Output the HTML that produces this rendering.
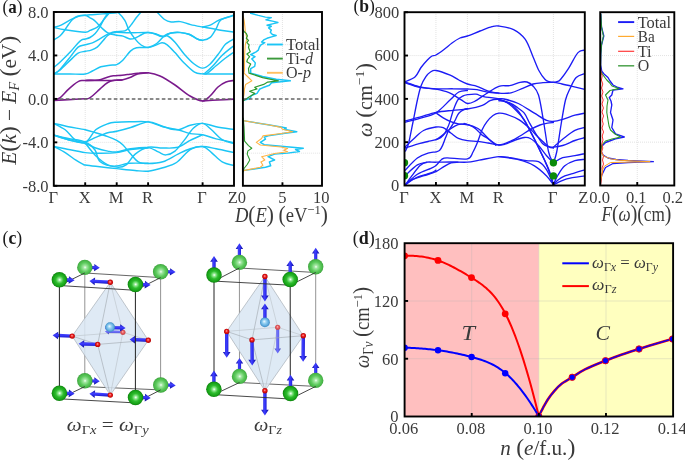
<!DOCTYPE html>
<html><head><meta charset="utf-8"><style>
html,body{margin:0;padding:0;background:#fff;width:685px;height:460px;overflow:hidden}
svg{display:block;font-family:"Liberation Serif",serif}
text{filter:grayscale(1)}
</style></head><body>
<svg width="685" height="460" viewBox="0 0 685 460">
<rect width="685" height="460" fill="#fff"/>
<defs><clipPath id="ca"><rect x="53.8" y="12.0" width="180.2" height="173.8"/></clipPath>
<clipPath id="cda"><rect x="242.9" y="12" width="79.1" height="173.8"/></clipPath>
<clipPath id="cb"><rect x="404.5" y="12.2" width="180.3" height="173.3"/></clipPath>
<clipPath id="cdb"><rect x="600.2" y="12.2" width="74.1" height="173.3"/></clipPath>
<clipPath id="cd"><rect x="404.6" y="243.2" width="268.5" height="173.3"/></clipPath>
</defs>
<line x1="85.2" y1="12" x2="85.2" y2="185.8" stroke="#cdcdcd" stroke-width="0.7" stroke-dasharray="0.8,1.2"/>
<line x1="116.7" y1="12" x2="116.7" y2="185.8" stroke="#cdcdcd" stroke-width="0.7" stroke-dasharray="0.8,1.2"/>
<line x1="148.1" y1="12" x2="148.1" y2="185.8" stroke="#cdcdcd" stroke-width="0.7" stroke-dasharray="0.8,1.2"/>
<line x1="202.6" y1="12" x2="202.6" y2="185.8" stroke="#cdcdcd" stroke-width="0.7" stroke-dasharray="0.8,1.2"/>
<line x1="53.8" y1="55.45" x2="234" y2="55.45" stroke="#cdcdcd" stroke-width="0.7" stroke-dasharray="0.8,1.2"/>
<line x1="53.8" y1="142.35" x2="234" y2="142.35" stroke="#cdcdcd" stroke-width="0.7" stroke-dasharray="0.8,1.2"/>
<g clip-path="url(#ca)">
<path d="M53.8,27.4 C55.02,27.03 58.1,26.58 61.1,25.2 C64.1,23.82 68.75,20.62 71.8,19.1 C74.85,17.58 77.17,16.73 79.4,16.1 C81.63,15.47 83.43,15.52 85.2,15.3 C86.97,15.08 87.03,15.03 90,14.8 C92.97,14.57 98.55,14.25 103,13.9 C107.45,13.55 114.08,12.85 116.7,12.7 C119.32,12.55 117.35,11.72 118.7,13 C120.05,14.28 123.1,17.6 124.8,20.4 C126.5,23.2 127.2,26.72 128.9,29.8 C130.6,32.88 132.97,36.37 135,38.9 C137.03,41.43 138.92,43.57 141.1,45 C143.28,46.43 145.72,47.43 148.1,47.5 C150.48,47.57 153.08,46.18 155.4,45.4 C157.72,44.62 160.03,42.9 162,42.8 C163.97,42.7 165.03,43.17 167.2,44.8 C169.37,46.43 172.18,49.57 175,52.6 C177.82,55.63 180.85,59.73 184.1,63 C187.35,66.27 191.42,70.38 194.5,72.2 C197.58,74.02 199.18,73.6 202.6,73.9 C206.02,74.2 209.77,73.98 215,74 C220.23,74.02 230.83,74 234,74" fill="none" stroke="#1bc5f5" stroke-width="1.45" stroke-linejoin="round" stroke-linecap="round" />
<path d="M53.8,27.4 C55.67,27.8 59.77,29 65,29.8 C70.23,30.6 81.03,32.1 85.2,32.2 C89.37,32.3 88.03,31.2 90,30.4 C91.97,29.6 95.12,28.63 97,27.4 C98.88,26.17 99.72,25.03 101.3,23 C102.88,20.97 105.05,16.95 106.5,15.2 C107.95,13.45 108.42,13.7 110,12.5 C111.58,11.3 115,8.75 116,8" fill="none" stroke="#1bc5f5" stroke-width="1.45" stroke-linejoin="round" stroke-linecap="round" />
<path d="M53.8,39.9 C54.87,39.22 58.33,37.48 60.2,35.8 C62.07,34.12 63.62,31.68 65,29.8 C66.38,27.92 67.25,26.22 68.5,24.5 C69.75,22.78 71,20.87 72.5,19.5 C74,18.13 75.38,17.02 77.5,16.3 C79.62,15.58 83.12,14.95 85.2,15.2 C87.28,15.45 88.48,16.93 90,17.8 C91.52,18.67 92.85,19.23 94.3,20.4 C95.75,21.57 97.25,23.35 98.7,24.8 C100.15,26.25 101.55,27.8 103,29.1 C104.45,30.4 105.95,31.73 107.4,32.6 C108.85,33.47 110.15,33.87 111.7,34.3 C113.25,34.73 114.82,34.9 116.7,35.2 C118.58,35.5 120.78,35.47 123,36.1 C125.22,36.73 127.92,38.68 130,39 C132.08,39.32 133.67,38.67 135.5,38 C137.33,37.33 139.48,35.83 141,35 C142.52,34.17 143.42,33.42 144.6,33 C145.78,32.58 146.3,32.38 148.1,32.5 C149.9,32.62 152.87,33.07 155.4,33.7 C157.93,34.33 160.68,36.42 163.3,36.3 C165.92,36.18 168.28,33.65 171.1,33 C173.92,32.35 177.17,32.18 180.2,32.4 C183.23,32.62 186.47,33.22 189.3,34.3 C192.13,35.38 194.98,37.9 197.2,38.9 C199.42,39.9 200.43,40.55 202.6,40.3 C204.77,40.05 207.92,39.4 210.2,37.4 C212.48,35.4 214.52,31.22 216.3,28.3 C218.08,25.38 217.95,22.07 220.9,19.9 C223.85,17.73 231.82,16.07 234,15.3" fill="none" stroke="#1bc5f5" stroke-width="1.45" stroke-linejoin="round" stroke-linecap="round" />
<path d="M53.8,67.4 C54.87,66.5 57.35,64.68 60.2,62 C63.05,59.32 67.92,54.48 70.9,51.3 C73.88,48.12 76.3,44.8 78.1,42.9 C79.9,41 80.52,40.55 81.7,39.9 C82.88,39.25 83.82,39.4 85.2,39 C86.58,38.6 88.33,38.42 90,37.5 C91.67,36.58 93.6,35.18 95.2,33.5 C96.8,31.82 98.15,29.72 99.6,27.4 C101.05,25.08 102.45,21.78 103.9,19.6 C105.35,17.42 106.95,15.9 108.3,14.3 C109.65,12.7 110.72,11.22 112,10 C113.28,8.78 115.33,7.5 116,7" fill="none" stroke="#1bc5f5" stroke-width="1.45" stroke-linejoin="round" stroke-linecap="round" />
<path d="M53.8,74 C54.87,73.2 57.35,72.18 60.2,69.2 C63.05,66.22 67.92,59.78 70.9,56.1 C73.88,52.42 75.72,49 78.1,47.1 C80.48,45.2 82.82,45.4 85.2,44.7 C87.58,44 90.15,43.75 92.4,42.9 C94.65,42.05 96.2,41.03 98.7,39.6 C101.2,38.17 105.08,35.53 107.4,34.3 C109.72,33.07 111.05,32.63 112.6,32.2 C114.15,31.77 114.67,31.92 116.7,31.7 C118.73,31.48 122.87,31.47 124.8,30.9 C126.73,30.33 127.1,29.5 128.3,28.3 C129.5,27.1 130.72,25.42 132,23.7 C133.28,21.98 134.73,19.65 136,18 C137.27,16.35 138.43,15.3 139.6,13.8 C140.77,12.3 142.43,9.8 143,9" fill="none" stroke="#1bc5f5" stroke-width="1.45" stroke-linejoin="round" stroke-linecap="round" />
<path d="M53.8,74 C54.87,73.33 57.35,72.4 60.2,70 C63.05,67.6 67.92,62.42 70.9,59.6 C73.88,56.78 75.72,54.48 78.1,53.1 C80.48,51.72 83.02,51.8 85.2,51.3 C87.38,50.8 89.2,50.8 91.2,50.1 C93.2,49.4 95.2,48.7 97.2,47.1 C99.2,45.5 101.5,42.38 103.2,40.5 C104.9,38.62 105.83,37.07 107.4,35.8 C108.97,34.53 111.05,33.47 112.6,32.9 C114.15,32.33 113.8,32.42 116.7,32.4 C119.6,32.38 124.77,32.78 130,32.8 C135.23,32.82 143.93,32.3 148.1,32.5 C152.27,32.7 153.02,33.38 155,34 C156.98,34.62 158.5,35.77 160,36.2 C161.5,36.63 162.7,36.63 164,36.6 C165.3,36.57 165.97,35.07 167.8,36 C169.63,36.93 172.28,39.22 175,42.2 C177.72,45.18 180.85,50.22 184.1,53.9 C187.35,57.58 191.42,61.93 194.5,64.3 C197.58,66.67 199.98,68.15 202.6,68.1 C205.22,68.05 207.4,66.58 210.2,64 C213,61.42 216.87,55.9 219.4,52.6 C221.93,49.3 222.97,46.48 225.4,44.2 C227.83,41.92 232.57,39.78 234,38.9" fill="none" stroke="#1bc5f5" stroke-width="1.45" stroke-linejoin="round" stroke-linecap="round" />
<path d="M53.8,74 C56.5,74 64.77,74 70,74 C75.23,74 81.47,74.5 85.2,74 C88.93,73.5 89.8,72.2 92.4,71 C95,69.8 97.87,67.77 100.8,66.8 C103.73,65.83 107.35,65.57 110,65.2 C112.65,64.83 114.57,65.43 116.7,64.6 C118.83,63.77 120.52,62.45 122.8,60.2 C125.08,57.95 128.12,53.18 130.4,51.1 C132.68,49.02 133.55,48.32 136.5,47.7 C139.45,47.08 144.73,48.1 148.1,47.4 C151.47,46.7 153.95,45.47 156.7,43.5 C159.45,41.53 162.2,37.35 164.6,35.6 C167,33.85 168.5,33.5 171.1,33 C173.7,32.5 177.17,32.35 180.2,32.6 C183.23,32.85 186.47,33.43 189.3,34.5 C192.13,35.57 194.98,38 197.2,39 C199.42,40 201.7,40.25 202.6,40.5" fill="none" stroke="#1bc5f5" stroke-width="1.45" stroke-linejoin="round" stroke-linecap="round" />
<path d="M150,4 C151.25,5.42 155.07,9.92 157.5,12.5 C159.93,15.08 162.33,17.92 164.6,19.5 C166.87,21.08 168.5,21.65 171.1,22 C173.7,22.35 176.95,21.17 180.2,21.6 C183.45,22.03 186.87,23.7 190.6,24.6 C194.33,25.5 199.33,26.38 202.6,27 C205.87,27.62 206.9,27.72 210.2,28.3 C213.5,28.88 218.43,29.87 222.4,30.5 C226.37,31.13 232.07,31.83 234,32.1" fill="none" stroke="#1bc5f5" stroke-width="1.45" stroke-linejoin="round" stroke-linecap="round" />
<path d="M202.6,27 C203.87,26.7 207.4,26.38 210.2,25.2 C213,24.02 215.43,21.55 219.4,19.9 C223.37,18.25 231.57,16.07 234,15.3" fill="none" stroke="#1bc5f5" stroke-width="1.45" stroke-linejoin="round" stroke-linecap="round" />
<path d="M203.1,73.8 C203.48,73.62 203.75,74.03 205.4,72.7 C207.05,71.37 210.2,68.72 213,65.8 C215.8,62.88 218.7,58.58 222.2,55.2 C225.7,51.82 232.03,47.12 234,45.5" fill="none" stroke="#1bc5f5" stroke-width="1.45" stroke-linejoin="round" stroke-linecap="round" />
<path d="M204.6,73.9 C205,73.82 205.08,74.75 207,73.4 C208.92,72.05 213.07,68.33 216.1,65.8 C219.13,63.27 222.22,60.5 225.2,58.2 C228.18,55.9 232.53,53.03 234,52" fill="none" stroke="#1bc5f5" stroke-width="1.45" stroke-linejoin="round" stroke-linecap="round" />
<path d="M53.8,123.4 C56.22,123.95 63.07,125.63 68.3,126.7 C73.53,127.77 80.63,128.78 85.2,129.8 C89.77,130.82 91.93,131.67 95.7,132.8 C99.47,133.93 104.3,135.33 107.8,136.6 C111.3,137.87 114.17,139 116.7,140.4 C119.23,141.8 120.67,142.72 123,145 C125.33,147.28 128.15,151.3 130.7,154.1 C133.25,156.9 135.4,160.23 138.3,161.8 C141.2,163.37 144.02,163.5 148.1,163.5 C152.18,163.5 157.82,163.37 162.8,161.8 C167.78,160.23 173.43,156.27 178,154.1 C182.57,151.93 186.1,150.07 190.2,148.8 C194.3,147.53 198.28,146.5 202.6,146.5 C206.92,146.5 210.87,147.78 216.1,148.8 C221.33,149.82 231.02,151.97 234,152.6" fill="none" stroke="#1bc5f5" stroke-width="1.45" stroke-linejoin="round" stroke-linecap="round" />
<path d="M53.8,123.4 C55.7,124.47 61.52,126.97 65.2,129.8 C68.88,132.63 72.57,138.37 75.9,140.4 C79.23,142.43 81.9,142.5 85.2,142 C88.5,141.5 91.93,138.93 95.7,137.4 C99.47,135.87 104.3,133.82 107.8,132.8 C111.3,131.78 112.88,132.18 116.7,131.3 C120.52,130.42 125.47,129.07 130.7,127.5 C135.93,125.93 143.25,122.28 148.1,121.9 C152.95,121.52 156.08,124.02 159.8,125.2 C163.52,126.38 167.1,128.28 170.4,129 C173.7,129.72 176.3,130.13 179.6,129.5 C182.9,128.87 186.37,126.22 190.2,125.2 C194.03,124.18 198.28,123.15 202.6,123.4 C206.92,123.65 210.87,125.68 216.1,126.7 C221.33,127.72 231.02,129.03 234,129.5" fill="none" stroke="#1bc5f5" stroke-width="1.45" stroke-linejoin="round" stroke-linecap="round" />
<path d="M53.8,135.1 C56.22,135.87 63.07,138.47 68.3,139.7 C73.53,140.93 80.63,144.15 85.2,142.5 C89.77,140.85 91.93,132.93 95.7,129.8 C99.47,126.67 104.3,124.97 107.8,123.7 C111.3,122.43 113,122.52 116.7,122.2 C120.4,121.88 124.77,121.85 130,121.8 C135.23,121.75 142.63,121.08 148.1,121.9 C153.57,122.72 157.82,125.38 162.8,126.7 C167.78,128.02 173.43,128.65 178,129.8 C182.57,130.95 186.1,132.78 190.2,133.6 C194.3,134.42 198.28,133.82 202.6,134.7 C206.92,135.58 210.87,137.57 216.1,138.9 C221.33,140.23 231.02,142.07 234,142.7" fill="none" stroke="#1bc5f5" stroke-width="1.45" stroke-linejoin="round" stroke-linecap="round" />
<path d="M53.8,135.1 C56.22,135.87 63.07,138.3 68.3,139.7 C73.53,141.1 80.63,142.12 85.2,143.5 C89.77,144.88 91.93,146.73 95.7,148 C99.47,149.27 104.3,150.45 107.8,151.1 C111.3,151.75 112.88,152.28 116.7,151.9 C120.52,151.52 125.47,149.52 130.7,148.8 C135.93,148.08 143.5,147.08 148.1,147.6 C152.7,148.12 155.33,150.68 158.3,151.9 C161.27,153.12 163.12,155.03 165.9,154.9 C168.68,154.77 171.97,153.52 175,151.1 C178.03,148.68 181.05,144.2 184.1,140.4 C187.15,136.6 190.22,131.13 193.3,128.3 C196.38,125.47 199.57,123.15 202.6,123.4 C205.63,123.65 208.23,127.08 211.5,129.8 C214.77,132.52 218.45,137.42 222.2,139.7 C225.95,141.98 232.03,142.87 234,143.5" fill="none" stroke="#1bc5f5" stroke-width="1.45" stroke-linejoin="round" stroke-linecap="round" />
<path d="M53.8,135.1 C56.22,135.67 63.07,137.35 68.3,138.5 C73.53,139.65 80.75,140.08 85.2,142 C89.65,143.92 92.5,146.7 95,150 C97.5,153.3 96.58,158.95 100.2,161.8 C103.82,164.65 112.38,166.6 116.7,167.1 C121.02,167.6 123.02,166.97 126.1,164.8 C129.18,162.63 131.53,157.02 135.2,154.1 C138.87,151.18 143.5,148.32 148.1,147.3 C152.7,146.28 157.82,148 162.8,148 C167.78,148 173.43,148.57 178,147.3 C182.57,146.03 186.1,142.5 190.2,140.4 C194.3,138.3 200.53,135.65 202.6,134.7" fill="none" stroke="#1bc5f5" stroke-width="1.45" stroke-linejoin="round" stroke-linecap="round" />
<path d="M53.8,146.5 C55.7,146.88 59.97,147.78 65.2,148.8 C70.43,149.82 79.4,151.87 85.2,152.6 C91,153.33 94.75,153.2 100,153.2 C105.25,153.2 111.58,153.22 116.7,152.6 C121.82,151.98 125.47,150.27 130.7,149.5 C135.93,148.73 145.2,148.25 148.1,148" fill="none" stroke="#1bc5f5" stroke-width="1.45" stroke-linejoin="round" stroke-linecap="round" />
<path d="M53.8,146.5 C55.7,147.52 61.52,150.32 65.2,152.6 C68.88,154.88 72.85,158.22 75.9,160.2 C78.95,162.18 81.95,163.7 83.5,164.5 C85.05,165.3 83.17,164.7 85.2,165 C87.23,165.3 90.45,165.7 95.7,166.3 C100.95,166.9 110.15,167.9 116.7,168.6 C123.25,169.3 129.77,170.07 135,170.5 C140.23,170.93 143.47,171.65 148.1,171.2 C152.73,170.75 158.07,169.25 162.8,167.8 C167.53,166.35 171.93,165.53 176.5,162.5 C181.07,159.47 185.85,152.27 190.2,149.6 C194.55,146.93 199.05,146 202.6,146.5 C206.15,147 208.23,150.05 211.5,152.6 C214.77,155.15 218.45,159.63 222.2,161.8 C225.95,163.97 232.03,164.97 234,165.6" fill="none" stroke="#1bc5f5" stroke-width="1.45" stroke-linejoin="round" stroke-linecap="round" />
<path d="M85.2,143 C86.95,145.12 91.93,152.07 95.7,155.7 C99.47,159.33 104.3,163.08 107.8,164.8 C111.3,166.52 113.15,166.25 116.7,166 C120.25,165.75 123.87,163.75 129.1,163.3 C134.33,162.85 144.93,163.3 148.1,163.3" fill="none" stroke="#1bc5f5" stroke-width="1.45" stroke-linejoin="round" stroke-linecap="round" />
<path d="M53.8,100.3 C54.02,100.27 54.03,100.55 55.1,100.1 C56.17,99.65 58.17,99.22 60.2,97.6 C62.23,95.98 65.08,92.53 67.3,90.4 C69.52,88.27 71.62,86.3 73.5,84.8 C75.38,83.3 77.07,82.12 78.6,81.4 C80.13,80.68 81.6,80.67 82.7,80.5 C83.8,80.33 83.17,80.45 85.2,80.4 C87.23,80.35 92.27,80.37 94.9,80.2 C97.53,80.03 98.95,79.9 101,79.4 C103.05,78.9 105.15,77.8 107.2,77.2 C109.25,76.6 110.83,76.13 113.3,75.8 C115.77,75.47 119.22,75.47 122,75.2 C124.78,74.93 127.4,74.52 130,74.2 C132.6,73.88 134.58,73.53 137.6,73.3 C140.62,73.07 144.37,72.35 148.1,72.8 C151.83,73.25 155.52,73.97 160,76 C164.48,78.03 170,81.67 175,85 C180,88.33 185.4,93.35 190,96 C194.6,98.65 199.27,100.9 202.6,100.9 C205.93,100.9 207.43,98.32 210,96 C212.57,93.68 215.33,89.33 218,87 C220.67,84.67 223.33,83.1 226,82 C228.67,80.9 232.67,80.67 234,80.4" fill="none" stroke="#7a1a8c" stroke-width="1.55" stroke-linejoin="round" stroke-linecap="round" />
<path d="M53.8,100.5 C56.9,100.32 67.17,99.68 72.4,99.4 C77.63,99.12 82.47,98.97 85.2,98.8 C87.93,98.63 87.52,98.95 88.8,98.4 C90.08,97.85 91.2,96.92 92.9,95.5 C94.6,94.08 96.97,91.77 99,89.9 C101.03,88.03 103.23,85.75 105.1,84.3 C106.97,82.85 108.48,81.88 110.2,81.2 C111.92,80.52 113.43,80.42 115.4,80.2 C117.37,79.98 119.57,80.35 122,79.9 C124.43,79.45 127.4,78.48 130,77.5 C132.6,76.52 134.58,74.78 137.6,74 C140.62,73.22 146.35,73 148.1,72.8" fill="none" stroke="#7a1a8c" stroke-width="1.55" stroke-linejoin="round" stroke-linecap="round" />
<path d="M85.2,80.4 C86.82,80.4 91.92,80.38 94.9,80.4 C97.88,80.42 100.37,80.5 103.1,80.5 C105.83,80.5 108.15,80.5 111.3,80.4 C114.45,80.3 120.22,79.98 122,79.9" fill="none" stroke="#7a1a8c" stroke-width="1.55" stroke-linejoin="round" stroke-linecap="round" />
<path d="M202.6,100.9 C205.17,100.75 212.77,100.3 218,100 C223.23,99.7 231.33,99.25 234,99.1" fill="none" stroke="#7a1a8c" stroke-width="1.55" stroke-linejoin="round" stroke-linecap="round" />
</g>
<line x1="53.8" y1="99" x2="234.0" y2="99" stroke="#666" stroke-width="1.3" stroke-dasharray="3.6,2.4"/>
<rect x="53.8" y="12" width="180.2" height="173.8" fill="none" stroke="#000" stroke-width="1.9"/>
<line x1="53.8" y1="12" x2="57.3" y2="12" stroke="#000" stroke-width="1.9"/>
<line x1="53.8" y1="55.45" x2="57.3" y2="55.45" stroke="#000" stroke-width="1.9"/>
<line x1="53.8" y1="98.9" x2="57.3" y2="98.9" stroke="#000" stroke-width="1.9"/>
<line x1="53.8" y1="142.35" x2="57.3" y2="142.35" stroke="#000" stroke-width="1.9"/>
<line x1="53.8" y1="185.8" x2="57.3" y2="185.8" stroke="#000" stroke-width="1.9"/>
<line x1="85.2" y1="185.8" x2="85.2" y2="182.3" stroke="#000" stroke-width="1.9"/>
<line x1="116.7" y1="185.8" x2="116.7" y2="182.3" stroke="#000" stroke-width="1.9"/>
<line x1="148.1" y1="185.8" x2="148.1" y2="182.3" stroke="#000" stroke-width="1.9"/>
<line x1="202.6" y1="185.8" x2="202.6" y2="182.3" stroke="#000" stroke-width="1.9"/>
<line x1="282.45" y1="12" x2="282.45" y2="185.8" stroke="#cdcdcd" stroke-width="0.7" stroke-dasharray="0.8,1.2"/>
<line x1="242.9" y1="44.6" x2="322" y2="44.6" stroke="#cdcdcd" stroke-width="0.7" stroke-dasharray="0.8,1.2"/>
<line x1="242.9" y1="153.2" x2="322" y2="153.2" stroke="#cdcdcd" stroke-width="0.7" stroke-dasharray="0.8,1.2"/>
<g clip-path="url(#cda)">
<path d="M243.2,16 L244.2,20.9 L244.8,26 L245.3,31.7 L246.9,38.3 L245.3,44.8 L244.7,53.5 L244.5,62 L244.5,70 L244,73.1 L248,77 L251.9,80.8 L245.6,84.4 L244.5,88.9 L244,94.5 L243.2,99" fill="none" stroke="#ffb446" stroke-width="1.1" stroke-linejoin="round" stroke-linecap="round" />
<path d="M250.7,13.3 L258.3,15.4 L265.4,17.1 L271.3,17.6 L265.9,19.8 L273.5,21.4 L277.9,22.5 L273.5,23.6 L267,25.2 L271.3,26.3 L268.6,27.9 L271.3,30.1 L270.3,32.3 L272.4,34.5 L276.2,35.5 L272.4,36.6 L267,38.3 L263.7,39.9 L261.6,42.1 L264.8,42.6 L261,44.8 L259.4,47 L258.3,50.2 L256.1,51.8 L252.9,53.5 L250.7,54.6 L255,56.7 L251.8,58.9 L252.4,59.5 L255.3,62.9 L254.7,66.3 L250.7,68.6 L250.7,73.1 L262.6,76.5 L276.2,79.3 L290.3,80.8 L271.6,82.7 L269.4,85.3 L262.6,87.8 L259.8,89 L257,93.4 L251.3,95.7 L250.2,98.5 L243.5,100.2" fill="none" stroke="#1bc5f5" stroke-width="1.45" stroke-linejoin="round" stroke-linecap="round" />
<path d="M243.2,30 L244.2,31.7 L246.3,33.4 L247.4,36.1 L246.3,38.3 L248.5,40.4 L246.9,42.6 L249.1,44.8 L248.5,47.5 L250.2,51.8 L246.9,54 L249.6,56.7 L247.4,59.5 L246.8,61.8 L250.7,64 L248.5,68.6 L249,73.1 L262.6,77.6 L278.4,80.8 L267.7,82.1 L263.7,84.4 L254.7,87.2 L257,88.9 L249.6,91.2 L254.7,93.4 L250.2,96.2 L243.4,100.8" fill="none" stroke="#2e9a2e" stroke-width="1.2" stroke-linejoin="round" stroke-linecap="round" />
<path d="M243.5,120.8 L244.6,120.9 L268.1,124.8 L281.1,127 L283.7,127.4 L286.3,128 L283.7,129.3 L296.8,131.7 L285,133.3 L268.1,135.9 L264.2,137.2 L265.5,139.1 L260.3,142.4 L264.2,144.7 L281.1,146.3 L303.3,148.2 L295.5,149.5 L299.4,151.5 L287.6,153.1 L274.6,154.1 L268.1,156.7 L274.6,160 L269.4,161.9 L270.7,165.8 L265.5,167.2 L244.6,170.4 L243.5,170.6" fill="none" stroke="#1bc5f5" stroke-width="1.45" stroke-linejoin="round" stroke-linecap="round" />
<path d="M243.5,120.8 L244.6,120.9 L268.1,124.8 L281.1,127.4 L282.4,129.3 L292.8,131.7 L281.1,133.5 L262.9,135.9 L261.6,138.5 L256.3,142.4 L260.3,145 L281.1,147 L287.6,148.6 L283.7,150.2 L287.6,151.8 L274.6,153.5 L261.6,156.7 L264.8,160 L260.9,161.9 L262.9,165.2 L260.3,167.2 L244.6,170.4 L243.5,170.6" fill="none" stroke="#ffb446" stroke-width="1.1" stroke-linejoin="round" stroke-linecap="round" />
<path d="M243.2,118 L244,126.7 L244.6,141.1 L248.5,145.6 L251.8,148.2 L247.9,150.9 L247.2,154.1 L249.8,160 L247.2,164.5 L244,168.5 L243.2,172" fill="none" stroke="#2e9a2e" stroke-width="1.1" stroke-linejoin="round" stroke-linecap="round" />
</g>
<line x1="242.9" y1="99" x2="322.0" y2="99" stroke="#666" stroke-width="1.3" stroke-dasharray="3.6,2.4"/>
<rect x="242.9" y="12" width="79.1" height="173.8" fill="none" stroke="#000" stroke-width="1.9"/>
<line x1="282.45" y1="185.8" x2="282.45" y2="182.3" stroke="#000" stroke-width="1.9"/>
<line x1="267" y1="44.5" x2="282.8" y2="44.5" stroke="#1bc5f5" stroke-width="1.9"/>
<line x1="267" y1="58.6" x2="282.8" y2="58.6" stroke="#3c9a3c" stroke-width="1.9"/>
<line x1="267" y1="72.8" x2="282.8" y2="72.8" stroke="#ffc060" stroke-width="1.9"/>
<text x="286" y="50" font-size="16.5" text-anchor="start" fill="#3a3a3a"  textLength="34" lengthAdjust="spacingAndGlyphs">Total</text>
<text x="286" y="64.1" font-size="16.5" text-anchor="start" fill="#3a3a3a"  textLength="27" lengthAdjust="spacingAndGlyphs">Ti-<tspan font-style="italic">d</tspan></text>
<text x="286" y="78.3" font-size="16.5" text-anchor="start" fill="#3a3a3a"  textLength="25" lengthAdjust="spacingAndGlyphs">O-<tspan font-style="italic">p</tspan></text>
<text x="2.6" y="12.5" font-size="18.5" text-anchor="start" fill="#1a1a1a"  textLength="19.8" lengthAdjust="spacingAndGlyphs">(<tspan font-weight="bold">a</tspan>)</text>
<text x="48.6" y="17.9" font-size="16.5" text-anchor="end" fill="#3a3a3a" >8.0</text>
<text x="48.6" y="61.35" font-size="16.5" text-anchor="end" fill="#3a3a3a" >4.0</text>
<text x="48.6" y="104.8" font-size="16.5" text-anchor="end" fill="#3a3a3a" >0.0</text>
<text x="48.6" y="148.25" font-size="16.5" text-anchor="end" fill="#3a3a3a" >-4.0</text>
<text x="48.6" y="191.7" font-size="16.5" text-anchor="end" fill="#3a3a3a" >-8.0</text>
<text x="53.2" y="202.8" font-size="16.5" text-anchor="middle" fill="#3a3a3a" >&#915;</text>
<text x="84.6" y="202.8" font-size="16.5" text-anchor="middle" fill="#3a3a3a" >X</text>
<text x="116.1" y="202.8" font-size="16.5" text-anchor="middle" fill="#3a3a3a" >M</text>
<text x="147.5" y="202.8" font-size="16.5" text-anchor="middle" fill="#3a3a3a" >R</text>
<text x="202" y="202.8" font-size="16.5" text-anchor="middle" fill="#3a3a3a" >&#915;</text>
<text x="232.9" y="202.8" font-size="16.5" text-anchor="middle" fill="#3a3a3a" >Z</text>
<text x="241.9" y="202.8" font-size="16.5" text-anchor="middle" fill="#3a3a3a" >0</text>
<text x="282.45" y="202.8" font-size="16.5" text-anchor="middle" fill="#3a3a3a" >5</text>
<text x="321.2" y="202.8" font-size="16.5" text-anchor="middle" fill="#3a3a3a" >10</text>
<text x="281.4" y="221.8" font-size="20" text-anchor="middle" fill="#3a3a3a"  textLength="93" lengthAdjust="spacingAndGlyphs"><tspan font-style="italic">D</tspan><tspan font-size="23">(</tspan><tspan font-style="italic">E</tspan><tspan font-size="23">)</tspan> <tspan font-size="23">(</tspan>eV<tspan font-size="13.5" dy="-7.5">&#8722;1</tspan><tspan dy="7.5" font-size="23">)</tspan></text>
<text x="15.6" y="100.3" font-size="20.5" text-anchor="middle" fill="#3a3a3a" transform="rotate(-90 15.6 100.3)" textLength="129" lengthAdjust="spacingAndGlyphs"><tspan font-style="italic">E</tspan><tspan font-size="23">(</tspan><tspan font-style="italic">k</tspan><tspan font-size="23">)</tspan> &#8722; <tspan font-style="italic">E</tspan><tspan font-size="14" dy="3.5" font-style="italic">F</tspan><tspan dy="-3.5"> </tspan><tspan font-size="23">(</tspan>eV<tspan font-size="23">)</tspan></text>
<line x1="435.95" y1="12.2" x2="435.95" y2="185.5" stroke="#cdcdcd" stroke-width="0.7" stroke-dasharray="0.8,1.2"/>
<line x1="467.4" y1="12.2" x2="467.4" y2="185.5" stroke="#cdcdcd" stroke-width="0.7" stroke-dasharray="0.8,1.2"/>
<line x1="498.9" y1="12.2" x2="498.9" y2="185.5" stroke="#cdcdcd" stroke-width="0.7" stroke-dasharray="0.8,1.2"/>
<line x1="553.4" y1="12.2" x2="553.4" y2="185.5" stroke="#cdcdcd" stroke-width="0.7" stroke-dasharray="0.8,1.2"/>
<line x1="404.5" y1="142.18" x2="584.8" y2="142.18" stroke="#cdcdcd" stroke-width="0.7" stroke-dasharray="0.8,1.2"/>
<line x1="404.5" y1="98.86" x2="584.8" y2="98.86" stroke="#cdcdcd" stroke-width="0.7" stroke-dasharray="0.8,1.2"/>
<line x1="404.5" y1="55.54" x2="584.8" y2="55.54" stroke="#cdcdcd" stroke-width="0.7" stroke-dasharray="0.8,1.2"/>
<g clip-path="url(#cb)">
<path d="M404.5,82 C406.28,81.12 412.45,79.12 415.2,76.7 C417.95,74.28 418.97,70.28 421,67.5 C423.03,64.72 425.57,61.92 427.4,60 C429.23,58.08 430.57,56.83 432,56 C433.43,55.17 433.95,56.08 435.95,55 C437.95,53.92 441.32,51.5 444,49.5 C446.68,47.5 449.33,44.92 452,43 C454.67,41.08 457.43,39.17 460,38 C462.57,36.83 464.07,37.17 467.4,36 C470.73,34.83 475.9,32.57 480,31 C484.1,29.43 488.85,27.43 492,26.6 C495.15,25.77 495.3,25.5 498.9,26 C502.5,26.5 509.2,27.37 513.6,29.6 C518,31.83 522.05,34.83 525.3,39.4 C528.55,43.97 530.82,51.78 533.1,57 C535.38,62.22 537.03,66.98 539,70.7 C540.97,74.42 543.23,77.48 544.9,79.3 C546.57,81.12 547.58,81.12 549,81.6 C550.42,82.08 552.07,82.2 553.4,82.2 C554.73,82.2 555.82,82.05 557,81.6 C558.18,81.15 558.6,81.65 560.5,79.5 C562.4,77.35 565.78,72.78 568.4,68.7 C571.02,64.62 574.25,57.93 576.2,55 C578.15,52.07 578.67,51.92 580.1,51.1 C581.53,50.28 584.02,50.27 584.8,50.1" fill="none" stroke="#1c1cf5" stroke-width="1.35" stroke-linejoin="round" stroke-linecap="round" />
<path d="M405.5,151 C406.03,149.67 407.45,147.83 408.7,143 C409.95,138.17 411.55,129.17 413,122 C414.45,114.83 416.07,106 417.4,100 C418.73,94 419.58,89.88 421,86 C422.42,82.12 424.32,79.03 425.9,76.7 C427.48,74.37 428.82,73.03 430.5,72 C432.18,70.97 432.67,69.97 435.95,70.5 C439.23,71.03 446.39,73.62 450.2,75.2 C454.01,76.78 455.93,78.53 458.8,80 C461.67,81.47 464.37,82.95 467.4,84 C470.43,85.05 473.65,85.15 477,86.3 C480.35,87.45 483.85,89.75 487.5,90.9 C491.15,92.05 494.98,92.88 498.9,93.2 C502.82,93.52 507.03,93.62 511,92.8 C514.97,91.98 519.02,89.77 522.7,88.3 C526.38,86.83 529.72,84.93 533.1,84 C536.48,83.07 539.62,82.97 543,82.7 C546.38,82.43 550.23,82.18 553.4,82.4 C556.57,82.62 558.85,83.35 562,84 C565.15,84.65 568.5,85.42 572.3,86.3 C576.1,87.18 582.72,88.8 584.8,89.3" fill="none" stroke="#1c1cf5" stroke-width="1.35" stroke-linejoin="round" stroke-linecap="round" />
<path d="M404.5,82 C407.03,82.8 414.46,85.67 419.7,86.8 C424.94,87.93 430.42,88.47 435.95,88.8 C441.48,89.13 447.66,88.77 452.9,88.8 C458.14,88.83 463.38,88.87 467.4,89 C471.42,89.13 473.65,89.07 477,89.6 C480.35,90.13 483.85,91.6 487.5,92.2 C491.15,92.8 497,93.03 498.9,93.2" fill="none" stroke="#1c1cf5" stroke-width="1.35" stroke-linejoin="round" stroke-linecap="round" />
<path d="M404.5,82.5 C407.03,83.3 414.46,86.18 419.7,87.3 C424.94,88.42 431.07,88.3 435.95,89.2 C440.83,90.1 444.86,90.97 449,92.7 C453.14,94.43 457.73,97.8 460.8,99.6 C463.87,101.4 465.13,103.18 467.4,103.5 C469.67,103.82 471.27,103.13 474.4,101.5 C477.53,99.87 482.12,96.23 486.2,93.7 C490.28,91.17 495,87.65 498.9,86.3 C502.8,84.95 506.08,86.27 509.6,85.6 C513.12,84.93 517.1,82.9 520,82.3 C522.9,81.7 524.83,81.38 527,82 C529.17,82.62 531.08,83.83 533,86 C534.92,88.17 536.83,89.67 538.5,95 C540.17,100.33 541.32,108.5 543,118 C544.68,127.5 546.87,144.53 548.6,152 C550.33,159.47 552.6,161 553.4,162.8" fill="none" stroke="#1c1cf5" stroke-width="1.35" stroke-linejoin="round" stroke-linecap="round" />
<path d="M553.4,162.8 C553.95,161 555.43,158.3 556.7,152 C557.97,145.7 559.53,133.67 561,125 C562.47,116.33 563.95,106.17 565.5,100 C567.05,93.83 568.52,91.75 570.3,88 C572.08,84.25 573.78,79.9 576.2,77.5 C578.62,75.1 583.37,74.25 584.8,73.6" fill="none" stroke="#1c1cf5" stroke-width="1.35" stroke-linejoin="round" stroke-linecap="round" />
<path d="M404.5,121.1 C407.03,120.45 414.46,118.67 419.7,117.2 C424.94,115.73 430.42,113.45 435.95,112.3 C441.48,111.15 447.66,110.85 452.9,110.3 C458.14,109.75 462.5,109.82 467.4,109 C472.3,108.18 478.52,106.8 482.3,105.4 C486.08,104 487.33,101.62 490.1,100.6 C492.87,99.58 496.08,98.97 498.9,99.3 C501.72,99.63 504.12,100.75 507,102.6 C509.88,104.45 513.37,107.58 516.2,110.4 C519.03,113.22 521.63,116 524,119.5 C526.37,123 528.57,127.98 530.4,131.4 C532.23,134.82 533.32,136.63 535,140 C536.68,143.37 538.92,148.27 540.5,151.6 C542.08,154.93 543.15,156.93 544.5,160 C545.85,163.07 547.12,165.92 548.6,170 C550.08,174.08 552.6,182.08 553.4,184.5" fill="none" stroke="#1c1cf5" stroke-width="1.35" stroke-linejoin="round" stroke-linecap="round" />
<path d="M404.5,122.4 C407.03,121.72 414.46,119.9 419.7,118.3 C424.94,116.7 430.9,115.85 435.95,112.8 C441,109.75 446.19,103.47 450,100 C453.81,96.53 455.9,93.58 458.8,92 C461.7,90.42 465.97,90.75 467.4,90.5" fill="none" stroke="#1c1cf5" stroke-width="1.35" stroke-linejoin="round" stroke-linecap="round" />
<path d="M435.95,112.8 C437.16,113.63 440.72,116.33 443.2,117.8 C445.68,119.27 448.27,120.58 450.8,121.6 C453.33,122.62 455.63,123.38 458.4,123.9 C461.17,124.42 464.13,123.93 467.4,124.7 C470.67,125.47 475.23,126.95 478,128.5 C480.77,130.05 482,132.08 484,134 C486,135.92 487.52,138.17 490,140 C492.48,141.83 495.3,144.88 498.9,145 C502.5,145.12 508.08,142.2 511.6,140.7 C515.12,139.2 516.83,137.9 520,136 C523.17,134.1 527.27,131.13 530.6,129.3 C533.93,127.47 537.17,126.02 540,125 C542.83,123.98 545.37,123.62 547.6,123.2 C549.83,122.78 552.43,122.62 553.4,122.5" fill="none" stroke="#1c1cf5" stroke-width="1.35" stroke-linejoin="round" stroke-linecap="round" />
<path d="M405,148 C407.52,147.23 416.27,144.48 420.1,143.4 C423.93,142.32 425.36,142.13 428,141.5 C430.64,140.87 433.83,140.25 435.95,139.6 C438.07,138.95 439.26,138.58 440.7,137.6 C442.14,136.62 443.47,135.33 444.6,133.7 C445.73,132.07 446.68,129.6 447.5,127.8 C448.32,126 448.52,125.87 449.5,122.9 C450.48,119.93 452.03,113.8 453.4,110 C454.77,106.2 456.07,102.47 457.7,100.1 C459.33,97.73 461.58,96.7 463.2,95.8 C464.82,94.9 465.27,94.97 467.4,94.7 C469.53,94.43 473.3,93.87 476,94.2 C478.7,94.53 479.78,95.95 483.6,96.7 C487.42,97.45 495.5,98.32 498.9,98.7 C502.3,99.08 500.77,98.2 504,99 C507.23,99.8 513.23,101.13 518.3,103.5 C523.37,105.87 529.68,110.4 534.4,113.2 C539.12,116 543.43,118.95 546.6,120.3 C549.77,121.65 550.72,121.47 553.4,121.3 C556.08,121.13 559.12,120.32 562.7,119.3 C566.28,118.28 571.22,116.22 574.9,115.2 C578.58,114.18 583.15,113.53 584.8,113.2" fill="none" stroke="#1c1cf5" stroke-width="1.35" stroke-linejoin="round" stroke-linecap="round" />
<path d="M405,170.3 C407.07,168.25 413.57,160.85 417.4,158 C421.23,155.15 424.91,154.23 428,153.2 C431.09,152.17 434,152.28 435.95,151.8 C437.9,151.32 438.59,151.37 439.7,150.3 C440.81,149.23 441.62,147.52 442.6,145.4 C443.58,143.28 444.62,140.03 445.6,137.6 C446.58,135.17 447.37,132.92 448.5,130.8 C449.63,128.68 451.27,126.7 452.4,124.9 C453.53,123.1 454.23,121.95 455.3,120 C456.37,118.05 457.3,114.97 458.8,113.2 C460.3,111.43 462.87,110.18 464.3,109.4 C465.73,108.62 466.88,108.65 467.4,108.5" fill="none" stroke="#1c1cf5" stroke-width="1.35" stroke-linejoin="round" stroke-linecap="round" />
<path d="M435.95,139.7 C436.57,139.32 437.94,138.73 439.7,137.4 C441.46,136.07 443.9,133.62 446.5,131.7 C449.1,129.78 452.88,127.15 455.3,125.9 C457.72,124.65 458.98,124.42 461,124.2 C463.02,123.98 466.33,124.53 467.4,124.6" fill="none" stroke="#1c1cf5" stroke-width="1.35" stroke-linejoin="round" stroke-linecap="round" />
<path d="M404.5,147.5 C406.05,146.03 410.62,141.53 413.8,138.7 C416.98,135.87 419.91,132.45 423.6,130.5 C427.29,128.55 432.68,127.47 435.95,127 C439.22,126.53 440.72,126.7 443.2,127.7 C445.68,128.7 448.27,131.22 450.8,133 C453.33,134.78 455.63,137.12 458.4,138.4 C461.17,139.68 464.13,140.2 467.4,140.7 C470.67,141.2 474.57,141.02 478,141.4 C481.43,141.78 484.52,142.4 488,143 C491.48,143.6 496.07,144.8 498.9,145 C501.73,145.2 502.45,144.95 505,144.2 C507.55,143.45 510.98,141.62 514.2,140.5 C517.42,139.38 521.6,137.83 524.3,137.5 C527,137.17 528.03,137.17 530.4,138.5 C532.77,139.83 535.8,142.63 538.5,145.5 C541.2,148.37 544.12,152.82 546.6,155.7 C549.08,158.58 552.27,161.62 553.4,162.8" fill="none" stroke="#1c1cf5" stroke-width="1.35" stroke-linejoin="round" stroke-linecap="round" />
<path d="M498.9,100.8 C499.92,100.92 502.82,100.8 505,101.5 C507.18,102.2 509.78,103.38 512,105 C514.22,106.62 516.3,108.7 518.3,111.2 C520.3,113.7 521.98,116.63 524,120 C526.02,123.37 528.48,127.82 530.4,131.4 C532.32,134.98 533.82,138.13 535.5,141.5 C537.18,144.87 539,148.52 540.5,151.6 C542,154.68 543.15,157.1 544.5,160 C545.85,162.9 547.52,166.33 548.6,169 C549.68,171.67 550.2,173.42 551,176 C551.8,178.58 553,183.08 553.4,184.5" fill="none" stroke="#1c1cf5" stroke-width="1.35" stroke-linejoin="round" stroke-linecap="round" />
<path d="M498.9,99.8 C500.78,100.35 507.02,101.73 510.2,103.1 C513.38,104.47 515.65,106.32 518,108 C520.35,109.68 522.47,110.87 524.3,113.2 C526.13,115.53 527.32,118.97 529,122 C530.68,125.03 532.15,127.82 534.4,131.4 C536.65,134.98 540.13,140.97 542.5,143.5 C544.87,146.03 546.78,145.98 548.6,146.6 C550.42,147.22 551.05,147.38 553.4,147.2 C555.75,147.02 559.12,146.62 562.7,145.5 C566.28,144.38 571.22,141.83 574.9,140.5 C578.58,139.17 583.15,138 584.8,137.5" fill="none" stroke="#1c1cf5" stroke-width="1.35" stroke-linejoin="round" stroke-linecap="round" />
<path d="M553.4,147.2 C555.3,145.58 561.22,140.3 564.8,137.5 C568.38,134.7 571.57,132.1 574.9,130.4 C578.23,128.7 583.15,127.82 584.8,127.3" fill="none" stroke="#1c1cf5" stroke-width="1.35" stroke-linejoin="round" stroke-linecap="round" />
<path d="M405.3,184.8 C406.42,183.28 409.53,178.9 412,175.7 C414.47,172.5 417.63,167.85 420.1,165.6 C422.57,163.35 424.16,162.77 426.8,162.2 C429.44,161.63 431.92,162.23 435.95,162.2 C439.98,162.17 445.76,162 451,162 C456.24,162 462.7,162.5 467.4,162.2 C472.1,161.9 473.95,161.12 479.2,160.2 C484.45,159.28 493.73,157.12 498.9,156.7 C504.07,156.28 505.63,157.03 510.2,157.7 C514.77,158.37 521.58,160.03 526.3,160.7 C531.02,161.37 535.12,160.18 538.5,161.7 C541.88,163.22 544.12,165.95 546.6,169.8 C549.08,173.65 552.27,182.3 553.4,184.8" fill="none" stroke="#1c1cf5" stroke-width="1.35" stroke-linejoin="round" stroke-linecap="round" />
<path d="M405.3,184.8 C407.32,183.05 413.13,177.05 417.4,174.3 C421.67,171.55 427.81,169.75 430.9,168.3 C433.99,166.85 434.17,167.07 435.95,165.6 C437.73,164.13 439.76,160.78 441.6,159.5 C443.44,158.22 442.7,158 447,157.9 C451.3,157.8 463.07,159.88 467.4,158.9 C471.73,157.92 471.33,154.72 473,152 C474.67,149.28 475.9,146.27 477.4,142.6 C478.9,138.93 480.4,133.48 482,130 C483.6,126.52 485.17,124.12 487,121.7 C488.83,119.28 491.02,116.92 493,115.5 C494.98,114.08 496.75,113.42 498.9,113.2 C501.05,112.98 502.52,113.1 505.9,114.2 C509.28,115.3 515.08,117.28 519.2,119.8 C523.32,122.32 527.63,126.6 530.6,129.3 C533.57,132 534.78,133.78 537,136 C539.22,138.22 541.9,140.8 543.9,142.6 C545.9,144.4 547.42,145.9 549,146.8 C550.58,147.7 552.67,147.8 553.4,148" fill="none" stroke="#1c1cf5" stroke-width="1.35" stroke-linejoin="round" stroke-linecap="round" />
<path d="M405.3,184.8 C406.42,183.95 408.87,181.22 412,179.7 C415.13,178.18 420.11,177.05 424.1,175.7 C428.09,174.35 432.58,173.17 435.95,171.6 C439.32,170.03 441.79,167.75 444.3,166.3 C446.81,164.85 448.72,163.58 451,162.9 C453.28,162.22 456.83,162.32 458,162.2" fill="none" stroke="#1c1cf5" stroke-width="1.35" stroke-linejoin="round" stroke-linecap="round" />
<path d="M405.3,184.8 C407.32,183.5 413.13,178.97 417.4,177 C421.67,175.03 427.81,174.13 430.9,173 C433.99,171.87 435.11,170.67 435.95,170.2" fill="none" stroke="#1c1cf5" stroke-width="1.35" stroke-linejoin="round" stroke-linecap="round" />
<path d="M405,175.7 C407.07,173.9 413.77,167.12 417.4,164.9 C421.03,162.68 425.23,162.82 426.8,162.4" fill="none" stroke="#1c1cf5" stroke-width="1.35" stroke-linejoin="round" stroke-linecap="round" />
<path d="M498.9,156.7 C502.13,157.2 512.38,158.18 518.3,159.7 C524.22,161.22 529.68,163.1 534.4,165.8 C539.12,168.5 543.43,172.73 546.6,175.9 C549.77,179.07 552.27,183.32 553.4,184.8" fill="none" stroke="#1c1cf5" stroke-width="1.35" stroke-linejoin="round" stroke-linecap="round" />
<path d="M553.4,162.8 C554.95,161.95 559.12,158.88 562.7,157.7 C566.28,156.52 571.22,156.38 574.9,155.7 C578.58,155.02 583.15,153.95 584.8,153.6" fill="none" stroke="#1c1cf5" stroke-width="1.35" stroke-linejoin="round" stroke-linecap="round" />
<path d="M553.4,184.5 C554.17,182.92 556.1,178.12 558,175 C559.9,171.88 561.98,168.18 564.8,165.8 C567.62,163.42 571.57,161.78 574.9,160.7 C578.23,159.62 583.15,159.53 584.8,159.3" fill="none" stroke="#1c1cf5" stroke-width="1.35" stroke-linejoin="round" stroke-linecap="round" />
<path d="M553.4,184.8 C554.17,184 556.1,181.48 558,180 C559.9,178.52 561.98,177.1 564.8,175.9 C567.62,174.7 571.57,173.82 574.9,172.8 C578.23,171.78 583.15,170.3 584.8,169.8" fill="none" stroke="#1c1cf5" stroke-width="1.35" stroke-linejoin="round" stroke-linecap="round" />
<path d="M553.4,184.8 C555.63,183.82 561.57,180.38 566.8,178.9 C572.03,177.42 581.8,176.4 584.8,175.9" fill="none" stroke="#1c1cf5" stroke-width="1.35" stroke-linejoin="round" stroke-linecap="round" />
<path d="M464,123.5 C465.3,123.93 469.63,125.02 471.8,126.1 C473.97,127.18 475.3,128.52 477,130 C478.7,131.48 480.33,133.67 482,135 C483.67,136.33 484.67,136.27 487,138 C489.33,139.73 494.5,144.17 496,145.4" fill="none" stroke="#1c1cf5" stroke-width="1.35" stroke-linejoin="round" stroke-linecap="round" />
<circle cx="404.5" cy="162.8" r="3.7" fill="#0a8a0a"/>
<circle cx="404.5" cy="175.7" r="3.7" fill="#0a8a0a"/>
</g>
<circle cx="553.4" cy="162.8" r="3.7" fill="#0a8a0a"/>
<circle cx="553.4" cy="175.9" r="3.7" fill="#0a8a0a"/>
<rect x="404.5" y="12.2" width="180.3" height="173.3" fill="none" stroke="#000" stroke-width="1.9"/>
<line x1="404.5" y1="142.18" x2="408" y2="142.18" stroke="#000" stroke-width="1.9"/>
<line x1="404.5" y1="98.86" x2="408" y2="98.86" stroke="#000" stroke-width="1.9"/>
<line x1="404.5" y1="55.54" x2="408" y2="55.54" stroke="#000" stroke-width="1.9"/>
<line x1="404.5" y1="12.22" x2="408" y2="12.22" stroke="#000" stroke-width="1.9"/>
<line x1="435.95" y1="185.5" x2="435.95" y2="182" stroke="#000" stroke-width="1.9"/>
<line x1="467.4" y1="185.5" x2="467.4" y2="182" stroke="#000" stroke-width="1.9"/>
<line x1="498.9" y1="185.5" x2="498.9" y2="182" stroke="#000" stroke-width="1.9"/>
<line x1="553.4" y1="185.5" x2="553.4" y2="182" stroke="#000" stroke-width="1.9"/>
<line x1="637.25" y1="12.2" x2="637.25" y2="185.5" stroke="#cdcdcd" stroke-width="0.7" stroke-dasharray="0.8,1.2"/>
<line x1="600.2" y1="142.18" x2="674.3" y2="142.18" stroke="#cdcdcd" stroke-width="0.7" stroke-dasharray="0.8,1.2"/>
<line x1="600.2" y1="98.86" x2="674.3" y2="98.86" stroke="#cdcdcd" stroke-width="0.7" stroke-dasharray="0.8,1.2"/>
<line x1="600.2" y1="55.54" x2="674.3" y2="55.54" stroke="#cdcdcd" stroke-width="0.7" stroke-dasharray="0.8,1.2"/>
<g clip-path="url(#cdb)">
<path d="M600.8,14 L601.5,27 L603.8,36 L601.5,45 L600.8,54 L600.6,65 L601.8,71.3 L604,74 L608,77.5 L610,81 L613,85 L618,87.5 L623,88.8 L617,89.6 L613,90 L611.8,95 L609.3,97.5 L611,101 L611.8,105 L610.5,112.5 L613,120 L611.8,127.5 L615.5,133.8 L624.3,137 L615.5,138.8 L605.5,142.5 L601.8,146.3 L600.5,150 L603,155 L608,158 L616,159.5 L628,160.5 L653.4,161.7 L628,162.6 L613,163.5 L605.5,167.5 L601.8,175 L600.5,182.5 L600.3,185.5" fill="none" stroke="#1c1cf5" stroke-width="1.35" stroke-linejoin="round" stroke-linecap="round" />
<path d="M600.8,14 L601.5,27 L603.4,36 L601.5,45 L600.8,54 L600.6,65 L600.5,71 L603,75 L606.8,80 L609.3,82.5 L612,86 L619,88.6 L610,90.5 L605.5,95 L608,100 L607,106 L606.8,112.5 L608,120 L609,126 L610.5,130 L615,134 L620.5,137 L612,139 L605.5,141 L601.8,145 L600.6,152 L600.5,185" fill="none" stroke="#2a9a2a" stroke-width="1.1" stroke-linejoin="round" stroke-linecap="round" />
<path d="M600.5,68 L601,72.5 L602.2,76 L601.4,80 L602.8,84 L601.6,88 L603,92 L601.8,96 L603.2,100 L602,104 L603.4,108 L602,112 L603.5,116 L602.2,120 L603.2,124 L602,128 L603.5,132 L602.2,136 L603,140 L601.8,144 L602.8,148 L601.6,152 L603.5,156 L602.5,160 L603.5,164 L602,168 L602.5,172 L601.5,176 L601.2,180 L600.6,185" fill="none" stroke="#ff3030" stroke-width="1.0" stroke-linejoin="round" stroke-linecap="round" />
<path d="M600.4,138 L600.6,146 L601.2,152 L602.5,155 L604.3,156.3 L610.5,158.8 L620,160.3 L650.2,161.7 L620,162.3 L610.5,162.5 L604.3,166.3 L602.5,170 L601.8,175 L600.8,180 L600.4,185" fill="none" stroke="#ffa520" stroke-width="1.0" stroke-linejoin="round" stroke-linecap="round" />
</g>
<rect x="600.2" y="12.2" width="74.1" height="173.3" fill="none" stroke="#000" stroke-width="1.9"/>
<line x1="637.25" y1="185.5" x2="637.25" y2="182" stroke="#000" stroke-width="1.9"/>
<line x1="618.1" y1="22.1" x2="634.2" y2="22.1" stroke="#1c1cf5" stroke-width="1.9"/>
<line x1="618.1" y1="36.4" x2="634.2" y2="36.4" stroke="#ffaa30" stroke-width="1.2"/>
<line x1="618.1" y1="51.3" x2="634.2" y2="51.3" stroke="#ff3a3a" stroke-width="1.2"/>
<line x1="618.1" y1="65.8" x2="634.2" y2="65.8" stroke="#4ca24c" stroke-width="1.5"/>
<text x="637.7" y="27.6" font-size="16.5" text-anchor="start" fill="#3a3a3a"  textLength="33.5" lengthAdjust="spacingAndGlyphs">Total</text>
<text x="637.7" y="41.9" font-size="16.5" text-anchor="start" fill="#3a3a3a"  textLength="17" lengthAdjust="spacingAndGlyphs">Ba</text>
<text x="637.7" y="56.8" font-size="16.5" text-anchor="start" fill="#3a3a3a"  textLength="14" lengthAdjust="spacingAndGlyphs">Ti</text>
<text x="637.7" y="71.3" font-size="16.5" text-anchor="start" fill="#3a3a3a"  textLength="11.5" lengthAdjust="spacingAndGlyphs">O</text>
<text x="353.4" y="12.3" font-size="18.5" text-anchor="start" fill="#1a1a1a"  textLength="21.5" lengthAdjust="spacingAndGlyphs">(<tspan font-weight="bold">b</tspan>)</text>
<text x="399.3" y="18.12" font-size="16.5" text-anchor="end" fill="#3a3a3a" >800</text>
<text x="399.3" y="61.44" font-size="16.5" text-anchor="end" fill="#3a3a3a" >600</text>
<text x="399.3" y="104.76" font-size="16.5" text-anchor="end" fill="#3a3a3a" >400</text>
<text x="399.3" y="148.08" font-size="16.5" text-anchor="end" fill="#3a3a3a" >200</text>
<text x="399.3" y="191.4" font-size="16.5" text-anchor="end" fill="#3a3a3a" >0</text>
<text x="403.9" y="202.8" font-size="16.5" text-anchor="middle" fill="#3a3a3a" >&#915;</text>
<text x="435.35" y="202.8" font-size="16.5" text-anchor="middle" fill="#3a3a3a" >X</text>
<text x="466.8" y="202.8" font-size="16.5" text-anchor="middle" fill="#3a3a3a" >M</text>
<text x="498.3" y="202.8" font-size="16.5" text-anchor="middle" fill="#3a3a3a" >R</text>
<text x="552.8" y="202.8" font-size="16.5" text-anchor="middle" fill="#3a3a3a" >&#915;</text>
<text x="583.4" y="202.8" font-size="16.5" text-anchor="middle" fill="#3a3a3a" >Z</text>
<text x="599.6" y="202.8" font-size="16.5" text-anchor="middle" fill="#3a3a3a" >0.0</text>
<text x="636.25" y="202.8" font-size="16.5" text-anchor="middle" fill="#3a3a3a" >0.1</text>
<text x="672.8" y="202.8" font-size="16.5" text-anchor="middle" fill="#3a3a3a" >0.2</text>
<text x="636.4" y="221" font-size="20" text-anchor="middle" fill="#3a3a3a"  textLength="70" lengthAdjust="spacingAndGlyphs"><tspan font-style="italic">F</tspan><tspan font-size="23">(</tspan><tspan font-style="italic">&#969;</tspan><tspan font-size="23">)</tspan><tspan font-size="23">(</tspan>cm<tspan font-size="23">)</tspan></text>
<text x="371.5" y="100" font-size="20" text-anchor="middle" fill="#3a3a3a" transform="rotate(-90 371.5 100)" textLength="74" lengthAdjust="spacingAndGlyphs"><tspan font-style="italic">&#969;</tspan> <tspan font-size="23">(</tspan>cm<tspan font-size="13.5" dy="-7.5">&#8722;1</tspan><tspan dy="7.5" font-size="23">)</tspan></text>
<defs>
<radialGradient id="gF" cx="0.5" cy="0.5" r="0.5" fx="0.52" fy="0.5">
 <stop offset="0" stop-color="#ffffff"/><stop offset="0.2" stop-color="#8fe88f"/><stop offset="0.5" stop-color="#2ebd2e"/><stop offset="0.85" stop-color="#16a016"/><stop offset="1" stop-color="#0c800c"/></radialGradient>
<radialGradient id="gB" cx="0.5" cy="0.5" r="0.5" fx="0.52" fy="0.5">
 <stop offset="0" stop-color="#f6fff6"/><stop offset="0.2" stop-color="#a6e8a6"/><stop offset="0.6" stop-color="#5ecb5e"/><stop offset="0.9" stop-color="#46b446"/><stop offset="1" stop-color="#3a9e3a"/></radialGradient>
<radialGradient id="gO" cx="0.5" cy="0.5" r="0.5" fx="0.45" fy="0.4">
 <stop offset="0" stop-color="#ffb0b0"/><stop offset="0.45" stop-color="#f02020"/><stop offset="1" stop-color="#b00000"/></radialGradient>
<radialGradient id="gT" cx="0.5" cy="0.5" r="0.5" fx="0.42" fy="0.4">
 <stop offset="0" stop-color="#f4fbff"/><stop offset="0.35" stop-color="#9ad4f4"/><stop offset="0.8" stop-color="#5aa8dc"/><stop offset="1" stop-color="#3a88c0"/></radialGradient>
<linearGradient id="aH" x1="0" y1="0" x2="0" y2="1">
 <stop offset="0" stop-color="#0c0c9c"/><stop offset="0.4" stop-color="#4040ff"/><stop offset="0.6" stop-color="#2e2ef0"/><stop offset="1" stop-color="#08088c"/></linearGradient>
<linearGradient id="aV" x1="0" y1="0" x2="1" y2="0">
 <stop offset="0" stop-color="#0c0c9c"/><stop offset="0.4" stop-color="#4040ff"/><stop offset="0.6" stop-color="#2e2ef0"/><stop offset="1" stop-color="#08088c"/></linearGradient>
</defs>
<line x1="84.8" y1="273" x2="84.8" y2="386.6" stroke="#888" stroke-width="0.9"/>
<line x1="160.6" y1="277.6" x2="160.6" y2="389.9" stroke="#888" stroke-width="0.9"/>
<line x1="84.8" y1="386.6" x2="160.6" y2="389.9" stroke="#555" stroke-width="0.9"/>
<line x1="84.8" y1="273" x2="160.6" y2="277.6" stroke="#555" stroke-width="0.9"/>
<polygon points="110.3,282.3 72.2,336.1 110.3,395.1 148.3,340.3" fill="#d4e3f1" fill-opacity="0.8"/>
<line x1="110.3" y1="282.3" x2="122.9" y2="332.3" stroke="#a8aeb4" stroke-width="0.6"/>
<line x1="110.3" y1="395.1" x2="122.9" y2="332.3" stroke="#a8aeb4" stroke-width="0.6"/>
<line x1="148.3" y1="340.3" x2="122.9" y2="332.3" stroke="#a8aeb4" stroke-width="0.6"/>
<line x1="122.9" y1="332.3" x2="72.2" y2="336.1" stroke="#a8aeb4" stroke-width="0.6"/>
<polygon points="89.74,269 94.14,269.17 94.06,271.27 99.8,267.8 94.35,263.88 94.27,265.98 89.86,265.8" fill="url(#aH)"/>
<circle cx="84.8" cy="267.4" r="7.7" fill="url(#gB)"/>
<polygon points="165.54,273.3 169.94,273.47 169.86,275.57 175.6,272.1 170.15,268.18 170.07,270.28 165.66,270.1" fill="url(#aH)"/>
<circle cx="160.6" cy="271.7" r="7.7" fill="url(#gB)"/>
<polygon points="89.74,382.4 94.14,382.57 94.06,384.67 99.8,381.2 94.35,377.28 94.27,379.38 89.86,379.2" fill="url(#aH)"/>
<circle cx="84.8" cy="380.8" r="7.7" fill="url(#gB)"/>
<polygon points="165.64,386.6 170.04,386.77 169.96,388.87 175.7,385.4 170.25,381.48 170.17,383.58 165.76,383.4" fill="url(#aH)"/>
<circle cx="160.7" cy="385" r="7.7" fill="url(#gB)"/>
<polygon points="120.54,330.7 109.14,330.34 109.19,328.89 104.9,331.5 109.01,334.38 109.06,332.93 120.46,333.3" fill="url(#aH)"/>
<circle cx="122.9" cy="332.3" r="2.6" fill="url(#gO)"/>
<polygon points="110.3,282.3 72.2,336.1 97.7,344.4" fill="#e4edf7" fill-opacity="0.3"/>
<polygon points="110.3,282.3 97.7,344.4 148.3,340.3" fill="#e8f0f8" fill-opacity="0.3"/>
<polygon points="110.3,395.1 72.2,336.1 97.7,344.4" fill="#dfe9f4" fill-opacity="0.28"/>
<polygon points="110.3,395.1 97.7,344.4 148.3,340.3" fill="#e4edf7" fill-opacity="0.28"/>
<line x1="110.3" y1="282.3" x2="72.2" y2="336.1" stroke="#a0a6ac" stroke-width="0.6"/>
<line x1="110.3" y1="282.3" x2="148.3" y2="340.3" stroke="#a0a6ac" stroke-width="0.6"/>
<line x1="110.3" y1="282.3" x2="97.7" y2="344.4" stroke="#a0a6ac" stroke-width="0.6"/>
<line x1="110.3" y1="395.1" x2="72.2" y2="336.1" stroke="#a0a6ac" stroke-width="0.6"/>
<line x1="110.3" y1="395.1" x2="148.3" y2="340.3" stroke="#a0a6ac" stroke-width="0.6"/>
<line x1="110.3" y1="395.1" x2="97.7" y2="344.4" stroke="#a0a6ac" stroke-width="0.6"/>
<line x1="72.2" y1="336.1" x2="97.7" y2="344.4" stroke="#a0a6ac" stroke-width="0.6"/>
<line x1="97.7" y1="344.4" x2="148.3" y2="340.3" stroke="#a0a6ac" stroke-width="0.6"/>
<polygon points="105.47,329.3 120.07,329.59 120.03,331.59 125.6,328 120.17,324.19 120.13,326.19 105.53,325.9" fill="url(#aH)"/>
<circle cx="110.1" cy="327.1" r="4.9" fill="url(#gT)"/>
<polygon points="110.41,280.6 94.99,279.64 95.13,277.55 89.4,281 94.65,285.13 94.78,283.04 110.19,284" fill="url(#aH)"/>
<polygon points="110.41,393.4 94.99,392.44 95.13,390.35 89.4,393.8 94.65,397.93 94.78,395.84 110.19,396.8" fill="url(#aH)"/>
<polygon points="72.28,334.4 58.17,333.75 58.27,331.66 52.6,335.2 57.92,339.25 58.02,337.15 72.12,337.8" fill="url(#aH)"/>
<polygon points="97.75,342.7 84.15,342.27 84.22,340.17 78.6,343.8 83.98,347.77 84.04,345.67 97.65,346.1" fill="url(#aH)"/>
<polygon points="148.38,338.6 135.18,337.97 135.28,335.87 129.6,339.4 134.91,343.46 135.01,341.36 148.22,342" fill="url(#aH)"/>
<circle cx="110.3" cy="282.3" r="2.7" fill="url(#gO)"/>
<circle cx="110.3" cy="395.1" r="2.7" fill="url(#gO)"/>
<circle cx="72.2" cy="336.1" r="2.7" fill="url(#gO)"/>
<circle cx="97.7" cy="344.4" r="2.7" fill="url(#gO)"/>
<circle cx="148.3" cy="340.3" r="2.7" fill="url(#gO)"/>
<line x1="59.4" y1="285.5" x2="59.4" y2="398.8" stroke="#222" stroke-width="1.0"/>
<line x1="135.4" y1="290.3" x2="135.4" y2="402.9" stroke="#222" stroke-width="1.0"/>
<line x1="59.4" y1="285.5" x2="135.4" y2="290.3" stroke="#333" stroke-width="0.9"/>
<line x1="59.4" y1="398.8" x2="135.4" y2="402.9" stroke="#333" stroke-width="0.9"/>
<line x1="59.4" y1="285.5" x2="84.8" y2="273" stroke="#333" stroke-width="0.9"/>
<line x1="135.4" y1="290.3" x2="160.6" y2="277.6" stroke="#333" stroke-width="0.9"/>
<line x1="59.4" y1="398.8" x2="84.8" y2="386.6" stroke="#333" stroke-width="0.9"/>
<line x1="135.4" y1="402.9" x2="160.6" y2="389.9" stroke="#333" stroke-width="0.9"/>
<polygon points="64.32,281.5 68.72,281.71 68.62,283.81 74.6,280.3 68.99,276.22 68.89,278.32 64.48,278.1" fill="url(#aH)"/>
<circle cx="59.4" cy="279.8" r="7.75" fill="url(#gF)"/>
<polygon points="140.32,286.1 144.72,286.31 144.62,288.41 150.6,284.9 144.99,280.82 144.89,282.92 140.48,282.7" fill="url(#aH)"/>
<circle cx="135.4" cy="284.4" r="7.75" fill="url(#gF)"/>
<polygon points="64.32,394.9 68.72,395.11 68.62,397.21 74.6,393.7 68.99,389.62 68.89,391.72 64.48,391.5" fill="url(#aH)"/>
<circle cx="59.4" cy="393.2" r="7.75" fill="url(#gF)"/>
<polygon points="140.42,399.1 144.82,399.31 144.72,401.41 150.7,397.9 145.09,393.82 144.99,395.92 140.58,395.7" fill="url(#aH)"/>
<circle cx="135.5" cy="397.4" r="7.75" fill="url(#gF)"/>
<line x1="239.4" y1="268" x2="239.5" y2="382.5" stroke="#888" stroke-width="0.9"/>
<line x1="315.7" y1="272.5" x2="315.7" y2="386.4" stroke="#888" stroke-width="0.9"/>
<line x1="239.5" y1="382.5" x2="315.7" y2="386.4" stroke="#555" stroke-width="0.9"/>
<line x1="239.4" y1="268" x2="315.7" y2="272.5" stroke="#555" stroke-width="0.9"/>
<polygon points="264.9,276.5 226.7,331.4 264.9,390.7 303.3,335.7" fill="#d4e3f1" fill-opacity="0.8"/>
<line x1="264.9" y1="276.5" x2="277.7" y2="327.3" stroke="#a8aeb4" stroke-width="0.6"/>
<line x1="264.9" y1="390.7" x2="277.7" y2="327.3" stroke="#a8aeb4" stroke-width="0.6"/>
<line x1="303.3" y1="335.7" x2="277.7" y2="327.3" stroke="#a8aeb4" stroke-width="0.6"/>
<line x1="277.7" y1="327.3" x2="226.7" y2="331.4" stroke="#a8aeb4" stroke-width="0.6"/>
<polygon points="241,257.4 241,248.9 243.1,248.9 239.4,243.3 235.7,248.9 237.8,248.9 237.8,257.4" fill="url(#aV)"/>
<circle cx="239.4" cy="262.4" r="7.7" fill="url(#gB)"/>
<polygon points="317.3,261.8 317.3,253.4 319.4,253.4 315.7,247.8 312,253.4 314.1,253.4 314.1,261.8" fill="url(#aV)"/>
<circle cx="315.7" cy="266.8" r="7.7" fill="url(#gB)"/>
<polygon points="241.1,371.4 241.1,363.6 243.2,363.6 239.5,358 235.8,363.6 237.9,363.6 237.9,371.4" fill="url(#aV)"/>
<circle cx="239.5" cy="376.4" r="7.7" fill="url(#gB)"/>
<polygon points="317.3,375.4 317.3,368 319.4,368 315.7,362.4 312,368 314.1,368 314.1,375.4" fill="url(#aV)"/>
<circle cx="315.7" cy="380.4" r="7.7" fill="url(#gB)"/>
<polygon points="276.2,327.3 276.2,348.4 274.4,348.4 277.7,353.6 281,348.4 279.2,348.4 279.2,327.3" fill="url(#aV)"/>
<circle cx="277.7" cy="327.3" r="2.6" fill="url(#gO)"/>
<polygon points="264.9,276.5 226.7,331.4 252,339.9" fill="#e4edf7" fill-opacity="0.3"/>
<polygon points="264.9,276.5 252,339.9 303.3,335.7" fill="#e8f0f8" fill-opacity="0.3"/>
<polygon points="264.9,390.7 226.7,331.4 252,339.9" fill="#dfe9f4" fill-opacity="0.28"/>
<polygon points="264.9,390.7 252,339.9 303.3,335.7" fill="#e4edf7" fill-opacity="0.28"/>
<line x1="264.9" y1="276.5" x2="226.7" y2="331.4" stroke="#a0a6ac" stroke-width="0.6"/>
<line x1="264.9" y1="276.5" x2="303.3" y2="335.7" stroke="#a0a6ac" stroke-width="0.6"/>
<line x1="264.9" y1="276.5" x2="252" y2="339.9" stroke="#a0a6ac" stroke-width="0.6"/>
<line x1="264.9" y1="390.7" x2="226.7" y2="331.4" stroke="#a0a6ac" stroke-width="0.6"/>
<line x1="264.9" y1="390.7" x2="303.3" y2="335.7" stroke="#a0a6ac" stroke-width="0.6"/>
<line x1="264.9" y1="390.7" x2="252" y2="339.9" stroke="#a0a6ac" stroke-width="0.6"/>
<line x1="226.7" y1="331.4" x2="252" y2="339.9" stroke="#a0a6ac" stroke-width="0.6"/>
<line x1="252" y1="339.9" x2="303.3" y2="335.7" stroke="#a0a6ac" stroke-width="0.6"/>
<polygon points="266.6,318 266.6,309.2 268.7,309.2 264.9,303.4 261.1,309.2 263.2,309.2 263.2,318" fill="url(#aV)"/>
<circle cx="264.9" cy="322.3" r="4.9" fill="url(#gT)"/>
<polygon points="263.2,276.5 263.2,295.6 261.1,295.6 264.9,301.4 268.7,295.6 266.6,295.6 266.6,276.5" fill="url(#aV)"/>
<polygon points="263.2,390.7 263.2,409.7 261.1,409.7 264.9,415.5 268.7,409.7 266.6,409.7 266.6,390.7" fill="url(#aV)"/>
<polygon points="225,331.4 225,351.9 222.9,351.9 226.7,357.7 230.5,351.9 228.4,351.9 228.4,331.4" fill="url(#aV)"/>
<polygon points="250.3,339.91 250.45,359.81 248.35,359.83 252.2,365.6 255.95,359.77 253.85,359.79 253.7,339.89" fill="url(#aV)"/>
<polygon points="301.6,335.69 301.44,355.99 299.34,355.97 303.1,361.8 306.94,356.03 304.84,356.01 305,335.71" fill="url(#aV)"/>
<circle cx="264.9" cy="276.5" r="2.7" fill="url(#gO)"/>
<circle cx="264.9" cy="390.7" r="2.7" fill="url(#gO)"/>
<circle cx="226.7" cy="331.4" r="2.7" fill="url(#gO)"/>
<circle cx="252" cy="339.9" r="2.7" fill="url(#gO)"/>
<circle cx="303.3" cy="335.7" r="2.7" fill="url(#gO)"/>
<line x1="214" y1="281.1" x2="214" y2="394.6" stroke="#222" stroke-width="1.0"/>
<line x1="290.2" y1="285.2" x2="290.3" y2="399" stroke="#222" stroke-width="1.0"/>
<line x1="214" y1="281.1" x2="290.2" y2="285.2" stroke="#333" stroke-width="0.9"/>
<line x1="214" y1="394.6" x2="290.3" y2="399" stroke="#333" stroke-width="0.9"/>
<line x1="214" y1="281.1" x2="239.4" y2="268" stroke="#333" stroke-width="0.9"/>
<line x1="290.2" y1="285.2" x2="315.7" y2="272.5" stroke="#333" stroke-width="0.9"/>
<line x1="214" y1="394.6" x2="239.5" y2="382.5" stroke="#333" stroke-width="0.9"/>
<line x1="290.3" y1="399" x2="315.7" y2="386.4" stroke="#333" stroke-width="0.9"/>
<polygon points="215.7,270 215.7,261.7 217.8,261.7 214,255.9 210.2,261.7 212.3,261.7 212.3,270" fill="url(#aV)"/>
<circle cx="214" cy="275" r="7.75" fill="url(#gF)"/>
<polygon points="291.9,274.4 291.9,266 294,266 290.2,260.2 286.4,266 288.5,266 288.5,274.4" fill="url(#aV)"/>
<circle cx="290.2" cy="279.4" r="7.75" fill="url(#gF)"/>
<polygon points="215.6,384.3 215.6,376.2 217.7,376.2 213.9,370.4 210.1,376.2 212.2,376.2 212.2,384.3" fill="url(#aV)"/>
<circle cx="213.9" cy="389.3" r="7.75" fill="url(#gF)"/>
<polygon points="292.2,388.5 292.2,380.5 294.3,380.5 290.5,374.7 286.7,380.5 288.8,380.5 288.8,388.5" fill="url(#aV)"/>
<circle cx="290.5" cy="393.5" r="7.75" fill="url(#gF)"/>
<text x="2.6" y="243.7" font-size="18.5" text-anchor="start" fill="#1a1a1a"  textLength="19.6" lengthAdjust="spacingAndGlyphs">(<tspan font-weight="bold">c</tspan>)</text>
<text x="107.8" y="431.2" font-size="19.5" text-anchor="middle" fill="#3a3a3a"  textLength="82" lengthAdjust="spacingAndGlyphs"><tspan font-style="italic">&#969;</tspan><tspan font-size="13.5" dy="3">&#915;<tspan font-style="italic">x</tspan></tspan><tspan dy="-3"> = </tspan><tspan font-style="italic">&#969;</tspan><tspan font-size="13.5" dy="3">&#915;<tspan font-style="italic">y</tspan></tspan></text>
<text x="268" y="431.2" font-size="19.5" text-anchor="middle" fill="#3a3a3a"  textLength="28" lengthAdjust="spacingAndGlyphs"><tspan font-style="italic">&#969;</tspan><tspan font-size="13.5" dy="3">&#915;<tspan font-style="italic">z</tspan></tspan></text>
<rect x="404.6" y="243.2" width="134.25" height="173.3" fill="#ffbfbf"/>
<rect x="538.85" y="243.2" width="134.25" height="173.3" fill="#ffffbf"/>
<line x1="471.73" y1="243.2" x2="471.73" y2="416.5" stroke="#b0b0b0" stroke-opacity="0.35" stroke-width="0.9"/>
<line x1="538.85" y1="243.2" x2="538.85" y2="416.5" stroke="#b0b0b0" stroke-opacity="0.35" stroke-width="0.9"/>
<line x1="605.98" y1="243.2" x2="605.98" y2="416.5" stroke="#b0b0b0" stroke-opacity="0.35" stroke-width="0.9"/>
<line x1="404.6" y1="358.73" x2="673.1" y2="358.73" stroke="#b0b0b0" stroke-opacity="0.35" stroke-width="0.9"/>
<line x1="404.6" y1="300.97" x2="673.1" y2="300.97" stroke="#b0b0b0" stroke-opacity="0.35" stroke-width="0.9"/>
<g clip-path="url(#cd)">
<path d="M404.6,255.72 L406.3,255.69 L408,255.68 L409.7,255.7 L411.4,255.75 L413.1,255.82 L414.8,255.92 L416.5,256.04 L418.19,256.2 L419.89,256.39 L421.59,256.6 L423.29,256.85 L424.99,257.13 L426.69,257.45 L428.39,257.8 L430.09,258.18 L431.79,258.61 L433.49,259.06 L435.19,259.56 L436.89,260.1 L438.59,260.68 L440.29,261.3 L441.99,261.95 L443.69,262.65 L445.38,263.38 L447.08,264.14 L448.78,264.93 L450.48,265.76 L452.18,266.61 L453.88,267.49 L455.58,268.39 L457.28,269.32 L458.98,270.27 L460.68,271.23 L462.38,272.22 L464.08,273.22 L465.78,274.23 L467.48,275.26 L469.18,276.29 L470.88,277.34 L472.57,278.39 L474.27,279.45 L475.97,280.53 L477.67,281.65 L479.37,282.81 L481.07,284.03 L482.77,285.31 L484.47,286.66 L486.17,288.1 L487.87,289.64 L489.57,291.28 L491.27,293.04 L492.97,294.94 L494.67,296.97 L496.37,299.15 L498.07,301.49 L499.76,304 L501.46,306.7 L503.16,309.59 L504.86,312.68 L506.56,315.98 L508.26,319.5 L509.96,323.23 L511.66,327.17 L513.36,331.32 L515.06,335.67 L516.76,340.23 L518.46,344.98 L520.16,349.93 L521.86,355.07 L523.56,360.4 L525.26,365.92 L526.95,371.62 L528.65,377.51 L530.35,383.57 L532.05,389.82 L533.75,396.23 L535.45,402.82 L537.15,409.58 L538.85,416.5" fill="none" stroke="#ff0000" stroke-width="2.0" stroke-linejoin="round" stroke-linecap="round" />
<path d="M404.6,347.57 L406.3,347.64 L408,347.73 L409.7,347.81 L411.4,347.91 L413.1,348 L414.8,348.1 L416.5,348.21 L418.19,348.32 L419.89,348.44 L421.59,348.57 L423.29,348.7 L424.99,348.84 L426.69,348.99 L428.39,349.15 L430.09,349.32 L431.79,349.5 L433.49,349.68 L435.19,349.88 L436.89,350.09 L438.59,350.32 L440.29,350.55 L441.99,350.8 L443.69,351.06 L445.38,351.33 L447.08,351.61 L448.78,351.91 L450.48,352.21 L452.18,352.53 L453.88,352.86 L455.58,353.2 L457.28,353.56 L458.98,353.92 L460.68,354.29 L462.38,354.68 L464.08,355.08 L465.78,355.49 L467.48,355.91 L469.18,356.34 L470.88,356.78 L472.57,357.23 L474.27,357.69 L475.97,358.17 L477.67,358.67 L479.37,359.2 L481.07,359.75 L482.77,360.34 L484.47,360.96 L486.17,361.62 L487.87,362.32 L489.57,363.08 L491.27,363.88 L492.97,364.74 L494.67,365.66 L496.37,366.64 L498.07,367.69 L499.76,368.81 L501.46,370 L503.16,371.27 L504.86,372.63 L506.56,374.07 L508.26,375.6 L509.96,377.21 L511.66,378.91 L513.36,380.69 L515.06,382.56 L516.76,384.5 L518.46,386.52 L520.16,388.62 L521.86,390.8 L523.56,393.05 L525.26,395.37 L526.95,397.77 L528.65,400.24 L530.35,402.78 L532.05,405.39 L533.75,408.07 L535.45,410.82 L537.15,413.63 L538.85,416.5" fill="none" stroke="#0000ff" stroke-width="2.0" stroke-linejoin="round" stroke-linecap="round" />
<path d="M538.85,416.5 C539.14,415.83 539.94,413.87 540.6,412.5 C541.26,411.13 541.57,410.52 542.8,408.3 C544.03,406.08 546.03,402.13 548,399.2 C549.97,396.27 552.42,393.2 554.6,390.7 C556.78,388.2 558.17,386.43 561.1,384.2 C564.03,381.97 568.22,379.77 572.2,377.3 C576.18,374.83 579.45,372.17 585,369.4 C590.55,366.63 599.33,363.18 605.5,360.7 C611.67,358.22 616.42,356.45 622,354.5 C627.58,352.55 633.5,350.75 639,349 C644.5,347.25 649.63,345.63 655,344 C660.37,342.37 668.18,340.08 671.2,339.2 C674.22,338.32 672.78,338.78 673.1,338.7" fill="none" stroke="#ff0000" stroke-width="2.6" stroke-linejoin="round" stroke-linecap="round" />
<path d="M538.85,416.5 C539.14,415.83 539.94,413.87 540.6,412.5 C541.26,411.13 541.57,410.52 542.8,408.3 C544.03,406.08 546.03,402.13 548,399.2 C549.97,396.27 552.42,393.2 554.6,390.7 C556.78,388.2 558.17,386.43 561.1,384.2 C564.03,381.97 568.22,379.77 572.2,377.3 C576.18,374.83 579.45,372.17 585,369.4 C590.55,366.63 599.33,363.18 605.5,360.7 C611.67,358.22 616.42,356.45 622,354.5 C627.58,352.55 633.5,350.75 639,349 C644.5,347.25 649.63,345.63 655,344 C660.37,342.37 668.18,340.08 671.2,339.2 C674.22,338.32 672.78,338.78 673.1,338.7" fill="none" stroke="#1a00e0" stroke-width="1.5" stroke-linejoin="round" stroke-linecap="round" />
<circle cx="404.6" cy="255.8" r="3.4" fill="#ff0000"/>
<circle cx="438" cy="260.4" r="3.4" fill="#ff0000"/>
<circle cx="471.5" cy="277.6" r="3.4" fill="#ff0000"/>
<circle cx="505.2" cy="313.8" r="3.4" fill="#ff0000"/>
<circle cx="404.6" cy="347.8" r="3.2" fill="#0000ff"/>
<circle cx="438" cy="350.3" r="3.2" fill="#0000ff"/>
<circle cx="471.6" cy="357" r="3.2" fill="#0000ff"/>
<circle cx="505.2" cy="373.3" r="3.2" fill="#0000ff"/>
<circle cx="538.85" cy="416.5" r="3.2" fill="#0000ff" stroke="#ff0000" stroke-width="0.9"/>
<circle cx="572.2" cy="377.3" r="3.2" fill="#0000ff" stroke="#ff0000" stroke-width="0.9"/>
<circle cx="605.5" cy="360.7" r="3.2" fill="#0000ff" stroke="#ff0000" stroke-width="0.9"/>
<circle cx="639" cy="349" r="3.2" fill="#0000ff" stroke="#ff0000" stroke-width="0.9"/>
<circle cx="672.6" cy="339" r="3.2" fill="#0000ff" stroke="#ff0000" stroke-width="0.9"/>
</g>
<rect x="404.6" y="243.2" width="268.5" height="173.3" fill="none" stroke="#000" stroke-width="1.9"/>
<line x1="404.6" y1="358.73" x2="408.1" y2="358.73" stroke="#000" stroke-width="1.9"/>
<line x1="404.6" y1="300.97" x2="408.1" y2="300.97" stroke="#000" stroke-width="1.9"/>
<line x1="471.73" y1="416.5" x2="471.73" y2="413" stroke="#000" stroke-width="1.9"/>
<line x1="538.85" y1="416.5" x2="538.85" y2="413" stroke="#000" stroke-width="1.9"/>
<line x1="605.98" y1="416.5" x2="605.98" y2="413" stroke="#000" stroke-width="1.9"/>
<line x1="562.3" y1="263.3" x2="588.9" y2="263.3" stroke="#0000ff" stroke-width="2"/>
<line x1="562.3" y1="286.1" x2="588.9" y2="286.1" stroke="#ff0000" stroke-width="2"/>
<text x="592.1" y="267.6" font-size="17.5" text-anchor="start" fill="#3a3a3a"  textLength="66" lengthAdjust="spacingAndGlyphs"><tspan font-style="italic">&#969;</tspan><tspan font-size="12.5" dy="3">&#915;<tspan font-style="italic">x</tspan></tspan><tspan dy="-3"> = </tspan><tspan font-style="italic">&#969;</tspan><tspan font-size="12.5" dy="3">&#915;<tspan font-style="italic">y</tspan></tspan></text>
<text x="592.1" y="290.4" font-size="17.5" text-anchor="start" fill="#3a3a3a"  textLength="24.5" lengthAdjust="spacingAndGlyphs"><tspan font-style="italic">&#969;</tspan><tspan font-size="12.5" dy="3">&#915;<tspan font-style="italic">z</tspan></tspan></text>
<text x="468.3" y="340" font-size="21" text-anchor="middle" font-style="italic" fill="#3a3a3a"  textLength="13.5" lengthAdjust="spacingAndGlyphs">T</text>
<text x="602.8" y="340.4" font-size="21" text-anchor="middle" font-style="italic" fill="#3a3a3a"  textLength="14.5" lengthAdjust="spacingAndGlyphs">C</text>
<text x="352.8" y="243.9" font-size="18.5" text-anchor="start" fill="#1a1a1a"  textLength="22" lengthAdjust="spacingAndGlyphs">(<tspan font-weight="bold">d</tspan>)</text>
<text x="398.6" y="249.1" font-size="16.5" text-anchor="end" fill="#3a3a3a" >180</text>
<text x="398.6" y="306.87" font-size="16.5" text-anchor="end" fill="#3a3a3a" >120</text>
<text x="398.6" y="364.63" font-size="16.5" text-anchor="end" fill="#3a3a3a" >60</text>
<text x="398.6" y="422.4" font-size="16.5" text-anchor="end" fill="#3a3a3a" >0</text>
<text x="403.8" y="434.4" font-size="16.5" text-anchor="middle" fill="#3a3a3a" >0.06</text>
<text x="470.93" y="434.4" font-size="16.5" text-anchor="middle" fill="#3a3a3a" >0.08</text>
<text x="538.05" y="434.4" font-size="16.5" text-anchor="middle" fill="#3a3a3a" >0.10</text>
<text x="605.18" y="434.4" font-size="16.5" text-anchor="middle" fill="#3a3a3a" >0.12</text>
<text x="672.3" y="434.4" font-size="16.5" text-anchor="middle" fill="#3a3a3a" >0.14</text>
<text x="537.8" y="454.5" font-size="20.5" text-anchor="middle" fill="#3a3a3a"  textLength="75" lengthAdjust="spacingAndGlyphs"><tspan font-style="italic">n</tspan> <tspan font-size="23">(</tspan><tspan font-style="italic">e</tspan>/f.u.<tspan font-size="23">)</tspan></text>
<text x="369.5" y="327.4" font-size="20" text-anchor="middle" fill="#3a3a3a" transform="rotate(-90 369.5 327.4)" textLength="81" lengthAdjust="spacingAndGlyphs"><tspan font-style="italic">&#969;</tspan><tspan font-size="14" dy="3.5">&#915;<tspan font-style="italic">&#957;</tspan></tspan><tspan dy="-3.5"> </tspan><tspan font-size="23">(</tspan>cm<tspan font-size="13.5" dy="-7.5">&#8722;1</tspan><tspan dy="7.5" font-size="23">)</tspan></text>
</svg>
</body></html>
